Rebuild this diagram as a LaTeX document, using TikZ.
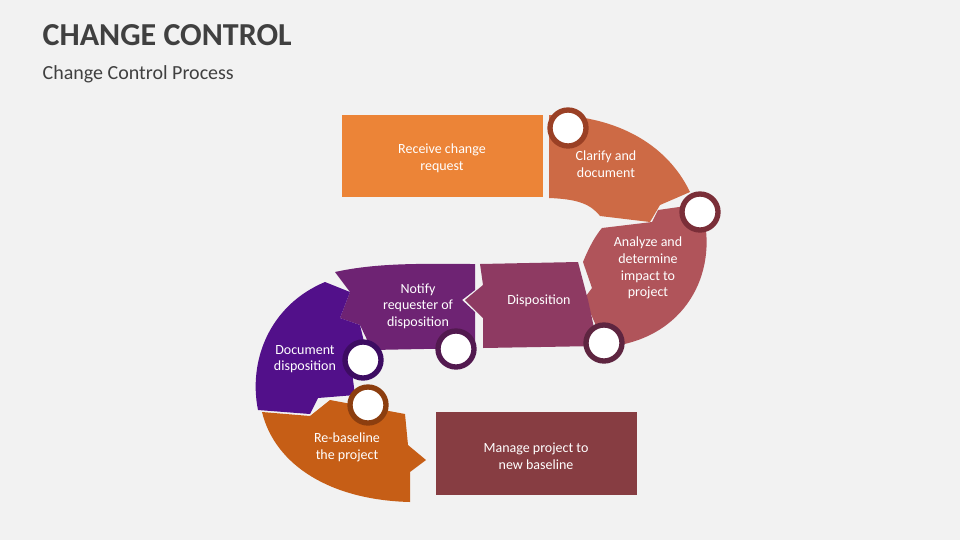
\documentclass[tikz,border=0pt]{standalone}
\usepackage{fontspec}
\setmainfont{Carlito}
\definecolor{bg}{HTML}{F2F2F2}
\definecolor{tx}{HTML}{404040}
\definecolor{s1}{HTML}{EC8437}
\definecolor{s2}{HTML}{CD6A45}
\definecolor{s3}{HTML}{B0545A}
\definecolor{s4}{HTML}{8E3A62}
\definecolor{s5}{HTML}{6E2373}
\definecolor{s6}{HTML}{52108A}
\definecolor{s7}{HTML}{C65E16}
\definecolor{s8}{HTML}{873D42}
\definecolor{r1}{HTML}{9A4025}
\definecolor{r2}{HTML}{7A2E38}
\definecolor{r3}{HTML}{5E2540}
\definecolor{r4}{HTML}{52194F}
\definecolor{r5}{HTML}{3D0C62}
\definecolor{r6}{HTML}{8C3E0F}
\begin{document}
\begin{tikzpicture}[x=0.75pt,y=-0.75pt,
  lbl/.style={text=white,font=\fontsize{10.5}{12.5}\selectfont,align=center},
  ring/.style={circle,fill=white,draw=#1,line width=4pt,minimum size=27pt,inner sep=0pt}]
\fill[bg] (0,0) rectangle (960,540);
\useasboundingbox (0,0) rectangle (960,540);
\node[anchor=west,font=\fontsize{24}{28}\bfseries\selectfont,text=tx] (title) at (38,35) {CHANGE CONTROL};
\node[anchor=west,font=\fontsize{15}{18}\selectfont,text=tx] (sub) at (38,74) {Change Control Process};
% shapes
\fill[s1] (342,115) rectangle (543,197);
\fill[s2] (549,115) .. controls (610,115) and (665,140) .. (690,192) -- (660,205) -- (650,222) -- (600,216) .. controls (590,203) and (575,199) .. (549,198) -- cycle;
\fill[s3] (602,228) -- (652,222) -- (658,210) -- (700,204) .. controls (720,260) and (695,330) .. (620,345) -- (598,330) -- (590,312) -- (583,300) -- (592,288) -- (583,262) .. controls (590,245) and (596,235) .. (602,228) -- cycle;
\fill[s4] (480,264) -- (578,262) -- (588,300) -- (598,346) -- (483,348) -- (483,318) -- (465,300) -- (483,285) -- cycle;
\fill[s5] (335,272) .. controls (380,262) and (430,264) .. (475,264) -- (475,290) -- (462,300) -- (475,312) -- (475,348) -- (372,350) -- (360,325) -- (340,318) -- (350,292) -- cycle;
\fill[s6] (325,282) -- (350,292) -- (340,318) -- (360,325) -- (366,350) -- (352,372) -- (355,395) -- (318,398) -- (310,414) -- (258,410) .. controls (248,360) and (270,305) .. (325,282) -- cycle;
\fill[s7] (262,412) -- (310,416) -- (330,400) -- (405,414) -- (408,445) -- (426,460) -- (410,472) -- (410,502) .. controls (330,500) and (275,465) .. (262,412) -- cycle;
\fill[s8] (436,412) rectangle (637,495);
% labels
\node[lbl] (n1) at (442,158) {Receive change\\request};
\node[lbl] (n2) at (606,164) {Clarify and\\document};
\node[lbl] (n3) at (648,268) {Analyze and\\determine\\impact to\\project};
\node[lbl] (n4) at (539,301) {Disposition};
\node[lbl] (n5) at (418,306) {Notify\\requester of\\disposition};
\node[lbl] (n6) at (305,359) {Document\\disposition};
\node[lbl] (n7) at (347,447) {Re-baseline\\the project};
\node[lbl] (n8) at (536,456) {Manage project to\\new baseline};
% rings
\node[ring=r1] (c1) at (568,128) {};
\node[ring=r2] (c2) at (700,212) {};
\node[ring=r3] (c3) at (604,343) {};
\node[ring=r4] (c4) at (456,349) {};
\node[ring=r5] (c5) at (363,360) {};
\node[ring=r6] (c6) at (368,405) {};
\end{tikzpicture}
\end{document}
